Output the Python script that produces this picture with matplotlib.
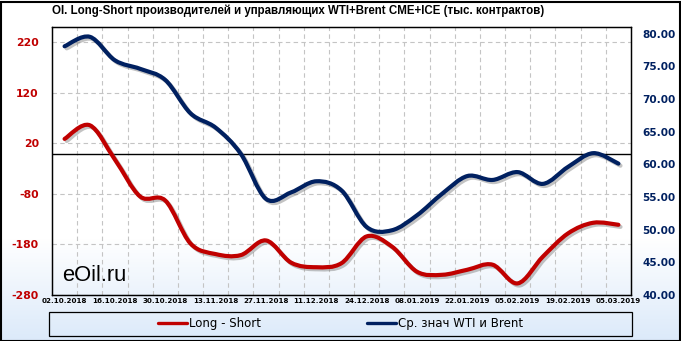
import numpy as np
import matplotlib
matplotlib.use('Agg')
from matplotlib import pyplot as plt
from matplotlib.path import Path
from matplotlib.patches import PathPatch, Rectangle
from matplotlib.lines import Line2D
import matplotlib.patheffects as pe
from matplotlib.ticker import FormatStrFormatter

plt.rcParams['axes.unicode_minus'] = False

# данные (недели, тыс. контрактов / $ за баррель)
dates = ['02.10.2018', '09.10.2018', '16.10.2018', '23.10.2018', '30.10.2018', '06.11.2018',
         '13.11.2018', '20.11.2018', '27.11.2018', '04.12.2018', '11.12.2018', '18.12.2018',
         '24.12.2018', '31.12.2018', '08.01.2019', '15.01.2019', '22.01.2019', '29.01.2019',
         '05.02.2019', '12.02.2019', '19.02.2019', '26.02.2019', '05.03.2019']
long_short = [29, 56, -12, -85, -93, -178, -199, -201, -172, -216, -225, -217,
              -164, -184, -234, -240, -230, -220, -257, -204, -158, -137, -141]
wti_brent = [78.05, 79.5, 75.9, 74.6, 72.9, 67.8, 65.6, 61.6, 54.7, 55.7, 57.4, 56.0,
             50.4, 49.9, 52.2, 55.5, 58.2, 57.6, 58.8, 57.0, 59.6, 61.7, 60.1]
left_ticks = [-280, -180, -80, 20, 120, 220]
right_ticks = [40, 45, 50, 55, 60, 65, 70, 75, 80]

title = 'OI. Long-Short производителей и управляющих WTI+Brent CME+ICE (тыс. контрактов)'
label_red = 'Long - Short'
label_blue = 'Ср. знач WTI и Brent'

RED = '#C00000'
BLUE = '#002060'


def smooth_path(xs, ys):
    # сглаженная линия как в Excel (кубические кривые Безье)
    pts = np.column_stack([xs, ys]).astype(float)
    n = len(pts)
    verts = [pts[0]]
    codes = [Path.MOVETO]
    for i in range(n - 1):
        p0 = pts[max(i - 1, 0)]
        p1 = pts[i]
        p2 = pts[i + 1]
        p3 = pts[min(i + 2, n - 1)]
        verts += [p1 + (p2 - p0) / 6.0, p2 - (p3 - p1) / 6.0, p2]
        codes += [Path.CURVE4] * 3
    return Path(verts, codes)


def draw(pathout):
    W, H = 681, 341
    fig = plt.figure(figsize=(W / 100, H / 100), dpi=100)

    '''фон с градиентом'''
    bg = fig.add_axes([0, 0, 1, 1], zorder=-10)
    rows = np.arange(H)
    t = np.clip((rows - 238) / (H - 238), 0, 1)[:, None]
    top = np.array([1.0, 1.0, 1.0])
    bot = np.array([0.86, 0.915, 0.98])
    img = (top * (1 - t) + bot * t)[:, None, :]
    bg.imshow(img, aspect='auto', extent=[0, 1, 0, 1])
    bg.axis('off')

    ax = fig.add_axes([52 / W, 1 - 295 / H, 579 / W, 268 / H])
    ax.set_facecolor('none')
    ax2 = ax.twinx()

    x = np.arange(len(dates))

    ax.set_xlim(-0.5, len(dates) - 0.5)
    ax.set_ylim(-280, 250.5)
    ax2.set_ylim(40, 81)

    '''сетка'''
    ax.set_yticks(left_ticks)
    ax.set_xticks(x[::2])
    ax.set_xticklabels(dates[::2])
    ax.set_xticks(np.arange(0.5, len(dates) - 1, 1), minor=True)
    ax.grid(which='major', axis='y', color='#c4c4c4', linestyle=(0, (4, 3)), linewidth=0.8)
    ax.grid(which='minor', axis='x', color='#c4c4c4', linestyle=(0, (4, 3)), linewidth=0.8)
    ax.set_axisbelow(True)
    ax.axhline(0, color='black', linewidth=1.0, zorder=1)

    shadow = [pe.SimpleLineShadow(offset=(1.5, -1.5), shadow_color='#7a7a7a', alpha=0.45),
              pe.Normal()]

    red = PathPatch(smooth_path(x, long_short), fill=False, edgecolor=RED, linewidth=3.0,
                    capstyle='round', joinstyle='round', zorder=3)
    red.set_path_effects(shadow)
    ax.add_patch(red)

    blue = PathPatch(smooth_path(x, wti_brent), fill=False, edgecolor=BLUE, linewidth=3.0,
                     capstyle='round', joinstyle='round', zorder=3)
    blue.set_path_effects(shadow)
    ax2.add_patch(blue)

    ax2.set_yticks(right_ticks)
    ax2.yaxis.set_major_formatter(FormatStrFormatter('%.2f'))

    '''оси'''
    for a in (ax, ax2):
        for s in a.spines.values():
            s.set_color('black')
            s.set_linewidth(0.9)

    ax.tick_params(axis='y', length=0, pad=9.5, labelsize=7.8, labelcolor=RED)
    ax.tick_params(axis='x', which='both', length=0, pad=2.5, labelsize=5.1, labelcolor='black')
    ax2.tick_params(axis='y', length=0, pad=8, labelsize=7.6, labelcolor=BLUE)
    for lab in ax.get_yticklabels() + ax.get_xticklabels() + ax2.get_yticklabels():
        lab.set_fontweight('bold')

    '''заголовок и подписи'''
    fig.text(52 / W, 1 - 11 / H, title, fontsize=8.3, fontweight='bold',
             family=['Liberation Sans', 'DejaVu Sans'], va='center', ha='left')
    fig.text(62 / W, 1 - 281 / H, 'eOil.ru', fontsize=15.8,
             family=['Liberation Sans', 'DejaVu Sans'], va='baseline', ha='left')

    '''легенда'''
    handles = [Line2D([], [], color=RED, linewidth=2.4, solid_capstyle='round'),
               Line2D([], [], color=BLUE, linewidth=2.4, solid_capstyle='round')]
    fig.legend(handles, [label_red, label_blue], loc='center', ncol=2, frameon=False,
               bbox_to_anchor=(340.5 / W, 1 - 324 / H), fontsize=8.5,
               handlelength=2.46, handletextpad=0.15, columnspacing=9.0, borderaxespad=0)
    fig.patches.append(Rectangle((49.3 / W, 1 - 336 / H), (631.7 - 49.3) / W, 24.3 / H,
                                 transform=fig.transFigure, fill=False,
                                 edgecolor='black', linewidth=0.9))
    fig.patches.append(Rectangle((0.5 / W, 0.5 / H), (W - 2) / W, (H - 2) / H,
                                 transform=fig.transFigure, fill=False,
                                 edgecolor='black', linewidth=1.5))

    fig.savefig(pathout + '/out.png', dpi=100)
    plt.close()


def main():
    draw('.')


if __name__ == "__main__":
    main()
